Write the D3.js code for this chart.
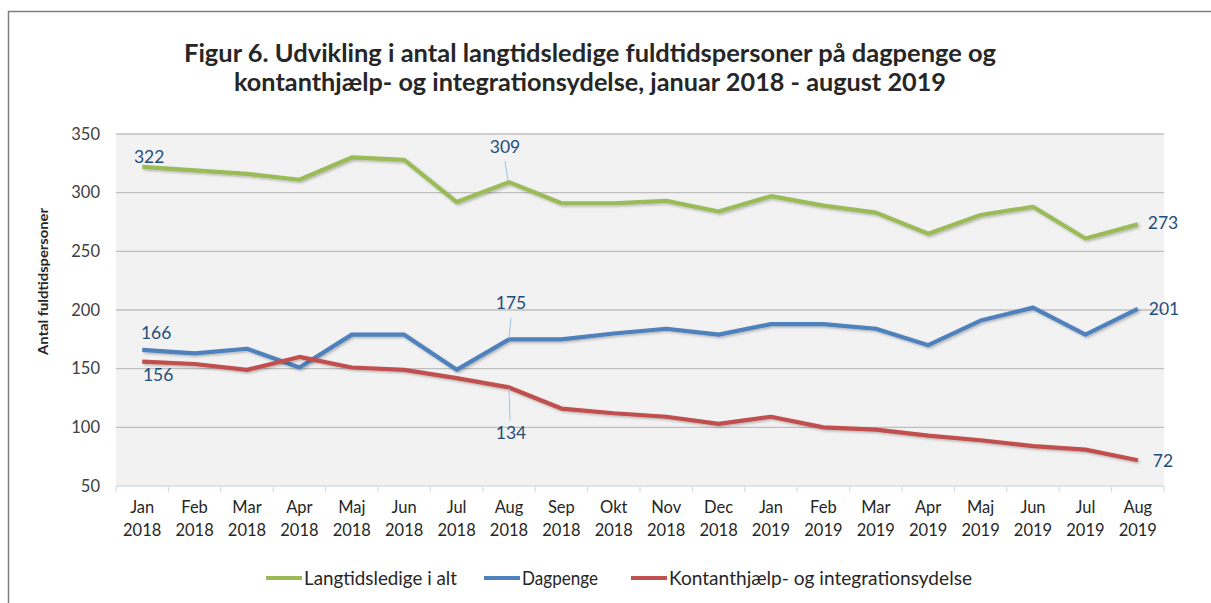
<!DOCTYPE html>
<html>
<head>
<meta charset="utf-8">
<script src="https://cdn.jsdelivr.net/npm/d3@7"></script>
<style>
  html, body { margin: 0; padding: 0; background: #fff; }
  svg { display: block; }
  text { font-family: Lato, "Open Sans", "Liberation Sans", sans-serif; }
</style>
</head>
<body>
<svg id="chart" width="1211" height="603"></svg>
<script>
// ---- data ----
const months = ["Jan","Feb","Mar","Apr","Maj","Jun","Jul","Aug","Sep","Okt","Nov","Dec","Jan","Feb","Mar","Apr","Maj","Jun","Jul","Aug"];
const years  = ["2018","2018","2018","2018","2018","2018","2018","2018","2018","2018","2018","2018","2019","2019","2019","2019","2019","2019","2019","2019"];
const langtidsledige = [322,319,316,311,330,328,292,309,291,291,293,284,297,289,283,265,281,288,261,273];
const dagpenge       = [166,163,167,151,179,179,149,175,175,180,184,179,188,188,184,170,191,202,179,201];
const kontanthjaelp  = [156,154,149,160,151,149,142,134,116,112,109,103,109,100,98,93,89,84,81,72];
const seriesNames = ["Langtidsledige i alt","Dagpenge","Kontanthjælp- og integrationsydelse"];
const yTicks = [50,100,150,200,250,300,350];
const titleLines = ["Figur 6. Udvikling i antal langtidsledige fuldtidspersoner på dagpenge og",
                    "kontanthjælp- og integrationsydelse, januar 2018 - august 2019"];
const yTitle = "Antal fuldtidspersoner";

const colors = ["#9bbb59","#4f81bd","#c0504d"];
const series = [langtidsledige, dagpenge, kontanthjaelp];

const svg = d3.select("#chart");

// drop shadow
const defs = svg.append("defs");
const f = defs.append("filter").attr("id","sh").attr("x","-5%").attr("y","-20%").attr("width","110%").attr("height","140%");
f.append("feDropShadow").attr("dx",1.5).attr("dy",1.5).attr("stdDeviation",1.2).attr("flood-color","#000").attr("flood-opacity",0.25);

// outer frame
svg.append("rect").attr("x",8.5).attr("y",11.5).attr("width",1220).attr("height",620)
  .attr("fill","none").attr("stroke","#7f7f7f").attr("stroke-width",1.5);

// title
const titleW = [812, 712];
const titleY = [62, 91];
titleLines.forEach((t,i) => {
  svg.append("text").attr("x",590).attr("y",titleY[i]).attr("text-anchor","middle")
    .attr("font-size",25).attr("font-weight","bold").attr("fill","#262626")
    .attr("textLength",titleW[i]).attr("lengthAdjust","spacingAndGlyphs").text(t);
});

// scales
const x = d3.scaleBand().domain(d3.range(months.length)).range([116,1164]);
const y = d3.scaleLinear().domain([50,350]).range([486,134]);
const cx = i => x(i) + x.bandwidth()/2;

// plot background
svg.append("rect").attr("x",116).attr("y",134).attr("width",1048).attr("height",352).attr("fill","#f2f2f2");

// gridlines
svg.append("g").selectAll("line").data(yTicks.filter(d => d > 50)).join("line")
  .attr("x1",116).attr("x2",1164).attr("y1",d=>y(d)).attr("y2",d=>y(d))
  .attr("stroke","#bfbfbf").attr("stroke-width",1.3);

// y axis labels
const yAxis = d3.axisLeft(y).tickValues(yTicks).tickSize(0).tickPadding(16);
const ya = svg.append("g").attr("transform","translate(116,0)").call(yAxis);
ya.select(".domain").remove();
ya.selectAll("text").attr("font-size",16.5).attr("fill","#404040")
  .style("font-family","Lato, 'Open Sans', sans-serif");

// x axis
const xa = svg.append("g").attr("transform","translate(0,486)");
xa.append("line").attr("x1",116).attr("x2",1164).attr("stroke","#d5dde8").attr("stroke-width",1.5);
xa.selectAll("line.tk").data(d3.range(months.length+1)).join("line").attr("class","tk")
  .attr("x1",i => 116 + i*x.bandwidth()).attr("x2",i => 116 + i*x.bandwidth())
  .attr("y1",0).attr("y2",6).attr("stroke","#d5dde8").attr("stroke-width",1.2);
const xl = xa.selectAll("text.xl").data(d3.range(months.length)).join("text").attr("class","xl")
  .attr("text-anchor","middle").attr("font-size",16.5).attr("fill","#262626");
xl.append("tspan").attr("x",i=>cx(i)).attr("y",27).text(i=>months[i]);
xl.append("tspan").attr("x",i=>cx(i)).attr("y",50).text(i=>years[i]);

// y title
svg.append("text").attr("transform","translate(48,281.5) rotate(-90)").attr("text-anchor","middle")
  .attr("font-size",13).attr("font-weight","bold").attr("fill","#262626")
  .attr("textLength",147).attr("lengthAdjust","spacingAndGlyphs").text(yTitle);

// lines
const line = d3.line().x((d,i)=>cx(i)).y(d=>y(d));
series.forEach((s,k) => {
  svg.append("path").datum(s).attr("d",line).attr("fill","none")
    .attr("stroke",colors[k]).attr("stroke-width",4.2).attr("stroke-linejoin","round")
    .attr("filter","url(#sh)");
});

// data labels
const labelColor = "#1f4e79";
const leaderColor = "#9dc3e6";
const labels = [
  {s:0,i:0,dx:7,dy:-4,anchor:"middle"},
  {s:1,i:0,dx:14,dy:-11,anchor:"middle"},
  {s:2,i:0,dx:16,dy:19,anchor:"middle"},
  {s:0,i:7,dx:-4,dy:-29,anchor:"middle", leader:[-4,-21,-1,-1]},
  {s:1,i:7,dx:2,dy:-30,anchor:"middle", leader:[2,-21,0,-1]},
  {s:2,i:7,dx:2,dy:52,anchor:"middle", leader:[0,1,1,33]},
  {s:0,i:19,dx:10,dy:5,anchor:"start"},
  {s:1,i:19,dx:11,dy:6,anchor:"start"},
  {s:2,i:19,dx:15,dy:6.5,anchor:"start"}
];
labels.forEach(l => {
  const v = series[l.s][l.i];
  const px = cx(l.i), py = y(v);
  if (l.leader) {
    svg.append("line").attr("x1",px+l.leader[0]).attr("y1",py+l.leader[1])
      .attr("x2",px+l.leader[2]).attr("y2",py+l.leader[3])
      .attr("stroke",leaderColor).attr("stroke-width",1);
  }
  svg.append("text").attr("x",px+l.dx).attr("y",py+l.dy).attr("text-anchor",l.anchor)
    .attr("font-size",17.5).attr("fill",labelColor).text(v);
});

// legend
const legendPos = [266, 484, 631];
const legendTextW = [153, 76, 303];
const lg = svg.append("g");
seriesNames.forEach((n,k) => {
  lg.append("line").attr("x1",legendPos[k]).attr("x2",legendPos[k]+36).attr("y1",578).attr("y2",578)
    .attr("stroke",colors[k]).attr("stroke-width",4.2);
  lg.append("text").attr("x",legendPos[k]+38).attr("y",584.5).attr("font-size",19)
    .attr("fill","#262626").attr("textLength",legendTextW[k]).attr("lengthAdjust","spacingAndGlyphs").text(n);
});
</script>
</body>
</html>
